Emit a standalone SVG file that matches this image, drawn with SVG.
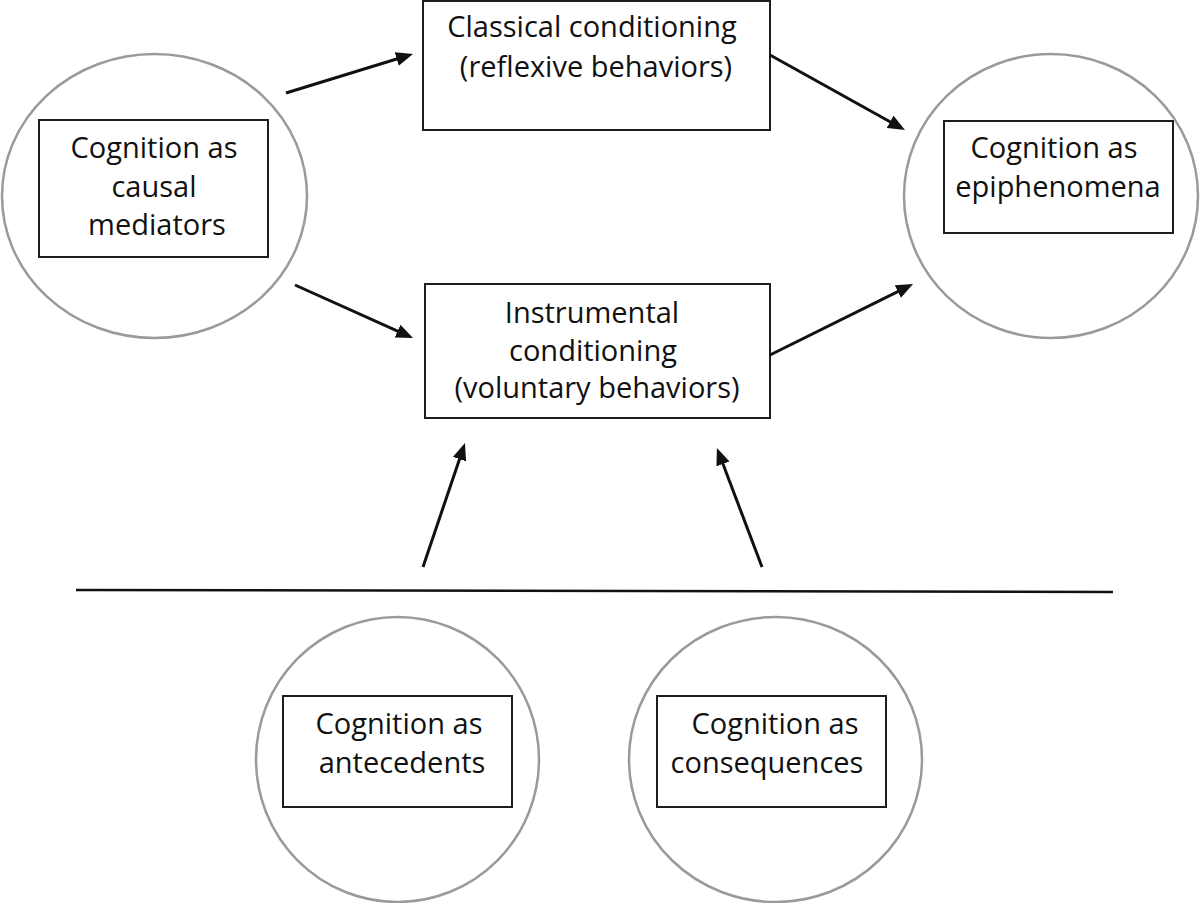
<svg xmlns="http://www.w3.org/2000/svg" width="1200" height="903" viewBox="0 0 1200 903">
<style>
.circ{fill:none;stroke:#9a9a9a;stroke-width:2.5}
.box{fill:#fff;stroke:#1e1e1e;stroke-width:2}
.t{font-family:"Open Sans","Liberation Sans",sans-serif;font-size:29px;fill:#111;text-anchor:middle}
.arr{stroke:#111;stroke-width:3;fill:none;marker-end:url(#ah)}
.rule{stroke:#111;stroke-width:2.5;fill:none}
</style>
<defs>
<marker id="ah" markerUnits="userSpaceOnUse" markerWidth="18" markerHeight="15" refX="5" refY="7" orient="auto" viewBox="0 0 18 14">
<path d="M0,0 L17,7 L0,14 z" fill="#111"/>
</marker>
</defs>
<rect width="1200" height="903" fill="#fff"/>
<g id="causal">
<ellipse class="circ" cx="154.5" cy="196" rx="152.5" ry="142"/>
<rect class="box" x="39" y="120" width="229" height="137"/>
<text class="t" x="154" y="158">Cognition as</text>
<text class="t" x="154" y="197">causal</text>
<text class="t" x="157" y="235">mediators</text>
</g>
<g id="classical">
<rect class="box" x="423" y="1" width="347" height="129"/>
<text class="t" x="592" y="37">Classical conditioning</text>
<text class="t" x="596" y="77">(reflexive behaviors)</text>
</g>
<g id="instrumental">
<rect class="box" x="425" y="284" width="345" height="134"/>
<text class="t" x="592" y="323">Instrumental</text>
<text class="t" x="593" y="361">conditioning</text>
<text class="t" x="597" y="398">(voluntary behaviors)</text>
</g>
<g id="epiphenomena">
<ellipse class="circ" cx="1051" cy="196" rx="147" ry="142"/>
<rect class="box" x="944" y="121" width="229" height="112"/>
<text class="t" x="1054" y="158">Cognition as</text>
<text class="t" x="1058" y="197">epiphenomena</text>
</g>
<g id="antecedents">
<ellipse class="circ" cx="397.5" cy="759.5" rx="141.5" ry="142.5"/>
<rect class="box" x="283" y="696" width="229" height="111"/>
<text class="t" x="399" y="734">Cognition as</text>
<text class="t" x="402" y="773">antecedents</text>
</g>
<g id="consequences">
<ellipse class="circ" cx="775.5" cy="759.5" rx="146.5" ry="142.5"/>
<rect class="box" x="657" y="696" width="229" height="111"/>
<text class="t" x="775" y="734">Cognition as</text>
<text class="t" x="767" y="773">consequences</text>
</g>
<g id="connectors">
<line class="arr" x1="286" y1="93" x2="401.5" y2="57.5"/>
<line class="arr" x1="295" y1="285" x2="402.1" y2="333.1"/>
<line class="arr" x1="770" y1="55" x2="894.5" y2="124.2"/>
<line class="arr" x1="770" y1="355" x2="902.3" y2="289.3"/>
<line class="arr" x1="423" y1="567" x2="461.1" y2="454.4"/>
<line class="arr" x1="762" y1="567" x2="721.2" y2="459.2"/>
<line class="rule" x1="76" y1="590" x2="1113" y2="592"/>
</g>
</svg>
